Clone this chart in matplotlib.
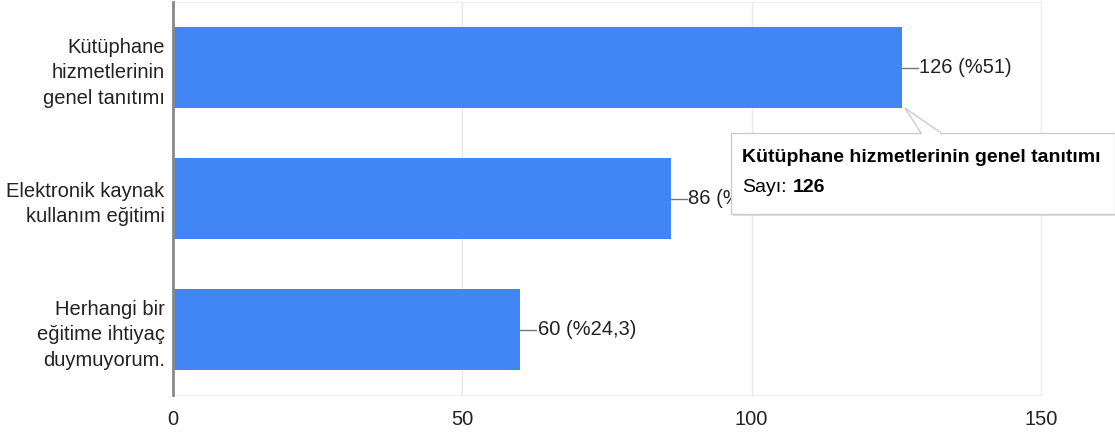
import numpy as np
import matplotlib.pyplot as plt
from matplotlib.patches import Rectangle, Polygon

plt.rcParams["font.family"] = ["Liberation Sans", "DejaVu Sans"]

kategoriler = ["Kütüphane\nhizmetlerinin\ngenel tanıtımı",
               "Elektronik kaynak\nkullanım eğitimi",
               "Herhangi bir\neğitime ihtiyaç\nduymuyorum."]
sayilar = [126, 86, 60]
yuzdeler = ["%51", "%34,8", "%24,3"]
x_ticks = [0, 50, 100, 150]

W, H = 1115, 437
fig = plt.figure(figsize=(11.15, 4.37), dpi=100)
ax = fig.add_axes([173/W, 42/H, 868/W, 393/H])

y = np.arange(len(kategoriler))
ax.barh(y, sayilar, height=0.62, color="#4285f4", zorder=2)
ax.set_xlim(0, 150)
ax.set_ylim(len(kategoriler) - 0.5, -0.5)
ax.set_yticks(y)
ax.set_yticklabels(kategoriler, fontsize=14.5, color="#222222", linespacing=1.45)
ax.set_xticks(x_ticks)
ax.set_xticklabels([str(t) for t in x_ticks], fontsize=14.5, color="#222222")
ax.tick_params(length=0, pad=6)
ax.tick_params(axis="x", pad=11)
ax.grid(axis="x", color="#e8e8e8", linewidth=1, zorder=0)
for s in ["top", "bottom", "right"]:
    ax.spines[s].set_color("#eeeeee")
ax.spines["left"].set_color("#888888")
ax.spines["left"].set_linewidth(2)
ax.spines["left"].set_zorder(3)

for yi, v, p in zip(y, sayilar, yuzdeler):
    ax.plot([v, v + 2.8], [yi, yi], color="#777777", lw=1, zorder=2)
    ax.text(v + 3.0, yi, f"{v} ({p})", va="center", ha="left",
            fontsize=14.5, color="#222222", zorder=2)

# tooltip
shadow = Rectangle((733/W, 1 - 216/H), 385/W, 83/H, transform=fig.transFigure,
                   facecolor="#d0d0d0", edgecolor="none", zorder=9, alpha=0.6)
fig.patches.append(shadow)
box = Rectangle((731/W, 1 - 214/H), 384/W, 81/H, transform=fig.transFigure,
                facecolor="white", edgecolor="#cccccc", lw=1, zorder=10)
fig.patches.append(box)
tri = Polygon([(905/W, 1 - 108/H), (921/W, 1 - 133/H), (941/W, 1 - 133/H)],
              closed=True, transform=fig.transFigure, facecolor="white",
              edgecolor="#cccccc", lw=1, zorder=10)
fig.patches.append(tri)
cover = Rectangle((922/W, 1 - 134.5/H), 18/W, 2.5/H, transform=fig.transFigure,
                  facecolor="white", edgecolor="none", zorder=11)
fig.patches.append(cover)
fig.text(742/W, 1 - 158/H, "Kütüphane hizmetlerinin genel tanıtımı", fontsize=14,
         fontweight="bold", color="#000000", va="center", ha="left", zorder=12)
t1 = fig.text(742/W, 1 - 187/H, "Sayı:", fontsize=14, color="#000000",
              va="center", ha="left", zorder=12)
fig.canvas.draw()
bb = t1.get_window_extent()
fig.text((bb.x1 + 6)/W, 1 - 187/H, str(sayilar[0]), fontsize=14, fontweight="bold",
         color="#000000", va="center", ha="left", zorder=12)

plt.savefig("out.png", dpi=100)
